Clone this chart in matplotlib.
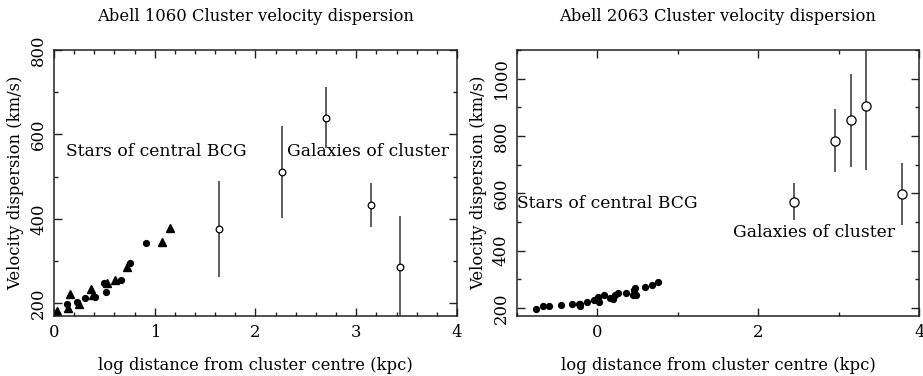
import matplotlib
matplotlib.use("Agg")
import matplotlib.pyplot as plt
from matplotlib.ticker import MultipleLocator

plt.rcParams['font.family'] = ['DejaVu Serif']

# ---------------- Abell 1060 ----------------
a1060_star_dot_x = [0.126, 0.232, 0.304, 0.407, 0.496, 0.516, 0.668, 0.751, 0.910]
a1060_star_dot_v = [198, 202, 213, 215, 247, 227, 256, 296, 342]
a1060_star_tri_x = [0.033, 0.142, 0.159, 0.251, 0.364, 0.384, 0.523, 0.602, 0.721, 1.072, 1.151]
a1060_star_tri_v = [183, 189, 221, 198, 235, 219, 247, 256, 285, 346, 378]
a1060_gal_x = [1.638, 2.266, 2.700, 3.143, 3.437]
a1060_gal_v = [376, 511, 640, 433, 285]
a1060_gal_err = [114, 108, 72, 52, 122]

# ---------------- Abell 2063 ----------------
a2063_star_x = [-0.764, -0.668, -0.598, -0.453, -0.316, -0.224, -0.212, -0.208, -0.121,
                -0.046, 0.008, 0.017, 0.012, 0.087, 0.162, 0.191, 0.224, 0.262, 0.357,
                0.440, 0.453, 0.469, 0.482, 0.598, 0.681, 0.756]
a2063_star_v = [196, 206, 206, 212, 215, 213, 206, 215, 222,
                227, 231, 220, 240, 245, 236, 231, 247, 252, 252,
                245, 261, 268, 245, 272, 279, 290]
a2063_gal_x = [2.446, 2.953, 3.153, 3.344, 3.785]
a2063_gal_v = [571, 784, 855, 904, 599]
a2063_gal_err = [65, 109, 163, 223, 108]

title_left = "Abell 1060 Cluster velocity dispersion"
title_right = "Abell 2063 Cluster velocity dispersion"
xlabel = "log distance from cluster centre (kpc)"
ylabel = "Velocity dispersion (km/s)"

W, H = 923, 376
fig = plt.figure(figsize=(W / 100, H / 100), dpi=100)

def px_axes(x0, x1, ytop, ybot):
    return fig.add_axes([x0 / W, (H - ybot) / H, (x1 - x0) / W, (ybot - ytop) / H])

ax1 = px_axes(54, 457, 50, 316)
ax2 = px_axes(516.7, 919.3, 50, 316)

FS = 11.8
FS_TXT = 12.3
ecol = '#333333'

def style(ax, xmaj, xmin, ymaj, ymin):
    ax.xaxis.set_major_locator(MultipleLocator(xmaj))
    ax.xaxis.set_minor_locator(MultipleLocator(xmin))
    ax.yaxis.set_major_locator(MultipleLocator(ymaj))
    ax.yaxis.set_minor_locator(MultipleLocator(ymin))
    ax.tick_params(which='both', direction='in', top=True, right=True,
                   width=1.0, color='#222222', labelsize=FS)
    ax.tick_params(which='major', length=5.8)
    ax.tick_params(which='minor', length=3.0)
    ax.tick_params(axis='x', pad=6)
    ax.tick_params(axis='y', pad=5)
    for sp in ax.spines.values():
        sp.set_linewidth(1.1)
        sp.set_color('#222222')
    ax.set_xlabel(xlabel, fontsize=FS, labelpad=11)
    ax.set_ylabel(ylabel, fontsize=FS, labelpad=4)

# Left panel
ax1.plot(a1060_star_dot_x, a1060_star_dot_v, 'o', color='black', ms=4.2, ls='none')
ax1.plot(a1060_star_tri_x, a1060_star_tri_v, '^', color='black', ms=5.5, ls='none')
ax1.errorbar(a1060_gal_x, a1060_gal_v, yerr=a1060_gal_err, fmt='o', mfc='white',
             mec='black', ms=4.8, mew=0.9, ecolor=ecol, elinewidth=1.1, capsize=0, zorder=3)
ax1.set_xlim(0, 4)
ax1.set_ylim(170, 800)
ax1.text(0.12, 560, "Stars of central BCG", fontsize=FS_TXT, va='center', ha='left')
ax1.text(2.31, 560, "Galaxies of cluster", fontsize=FS_TXT, va='center', ha='left')
ax1.set_title(title_left, fontsize=FS, pad=21)
style(ax1, 1, 0.2, 200, 100)
ax1.set_yticks([200, 400, 600, 800])

# Right panel
ax2.errorbar(a2063_star_x, a2063_star_v, yerr=8, fmt='o', color='black', ms=4.2,
             ecolor='black', elinewidth=1.0, capsize=0)
ax2.errorbar(a2063_gal_x, a2063_gal_v, yerr=a2063_gal_err, fmt='o', mfc='white',
             mec='black', ms=6.6, mew=0.9, ecolor=ecol, elinewidth=1.1, capsize=0, zorder=3)
ax2.set_xlim(-1, 4)
ax2.set_ylim(172, 1100)
ax2.text(-1.0, 566, "Stars of central BCG", fontsize=FS_TXT, va='center', ha='left')
ax2.text(1.69, 465, "Galaxies of cluster", fontsize=FS_TXT, va='center', ha='left')
ax2.set_title(title_right, fontsize=FS, pad=21)
style(ax2, 2, 1, 200, 100)
ax2.set_yticks([200, 400, 600, 800, 1000])

for ax in (ax1, ax2):
    for lab in ax.get_yticklabels():
        lab.set_rotation(90)
        lab.set_va('center')

fig.savefig("out.png", dpi=100)
